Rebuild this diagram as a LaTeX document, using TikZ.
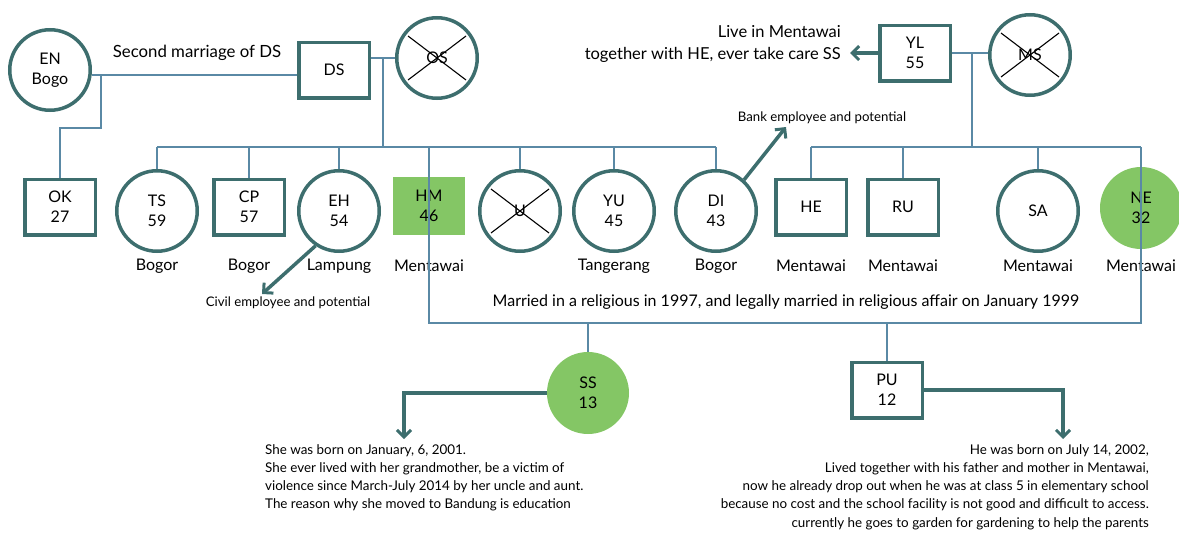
\documentclass[tikz,border=0pt]{standalone}
\usepackage{fontspec}
\setmainfont{Lato}
\usetikzlibrary{shapes.geometric,arrows.meta}
\definecolor{nodeteal}{RGB}{61,110,110}
\definecolor{linkblue}{RGB}{90,137,165}
\definecolor{leafgreen}{RGB}{132,198,101}
\begin{document}
\begin{tikzpicture}[x=1pt,y=-1pt,
  lbl/.style={font=\fontsize{16}{20}\selectfont, align=center, inner sep=0pt},
  person/.style={lbl, draw=nodeteal, line width=3.5pt, fill=white},
  male/.style={person, rectangle, minimum width=70.5pt, minimum height=55.5pt},
  female/.style={person, circle, minimum size=80.5pt},
  greenbox/.style={lbl, rectangle, fill=leafgreen, minimum width=72pt, minimum height=58pt},
  greencirc/.style={lbl, circle, fill=leafgreen, minimum size=82pt},
  deceased/.style={female, path picture={
      \draw[black, line width=1.1pt]
        ([shift={(-29,-22)}]path picture bounding box.center) -- ([shift={(29,22)}]path picture bounding box.center)
        ([shift={(-29,22)}]path picture bounding box.center) -- ([shift={(29,-22)}]path picture bounding box.center);}},
  place/.style={font=\fontsize{16}{20}\selectfont, inner sep=0pt},
  smallnote/.style={font=\fontsize{13.2}{16}\selectfont, inner sep=0pt},
  story/.style={font=\fontsize{13.4}{18.3}\selectfont, inner sep=0pt},
  link/.style={draw=linkblue, line width=2.3pt},
  pointer/.style={draw=nodeteal, line width=3.5pt, -{Straight Barb[length=7pt, width=14pt, line width=3pt]}}
]
\useasboundingbox (0,0) rectangle (1179,533);

% ---------- free points of connectors ----------
\coordinate (mEN) at (101,75);
\coordinate (kOK) at (60,128);
\coordinate (mDS) at (383,58);
\coordinate (bus1) at (383,147);
\coordinate (mYL) at (972,53);
\coordinate (bus2) at (972,147);
\coordinate (marr) at (786,323);

% ---------- people ----------
\node[female] (EN) at (50,70) {EN\\Bogo};
\node[male] (DS) at (334,70) {DS};
\node[deceased] (OS) at (437,58) {OS};
\node[male] (YL) at (915,53) {YL\\55};
\node[deceased] (MS) at (1030,55) {MS};

\node[male] (OK) at (60,207) {OK\\27};
\node[female] (TS) at (157,211) {TS\\59};
\node[male] (CP) at (249,207) {CP\\57};
\node[female] (EH) at (339,211) {EH\\54};
\node[greenbox] (HM) at (429,206) {HM\\46};
\node[deceased] (U) at (520,211) {U};
\node[female] (YU) at (614,211) {YU\\45};
\node[female] (DI) at (716,211) {DI\\43};
\node[male] (HE) at (811,207) {HE};
\node[male] (RU) at (903,207) {RU};
\node[female] (SA) at (1038,211) {SA};
\node[greencirc] (NE) at (1141,208) {NE\\32};

\node[greencirc] (SS) at (588,393) {SS\\13};
\node[male] (PU) at (887,390) {PU\\12};

% ---------- places ----------
\node[place] (TSp) at (157,266) {Bogor};
\node[place] (CPp) at (249,266) {Bogor};
\node[place] (EHp) at (339,266) {Lampung};
\node[place] (HMp) at (429,266) {Mentawai};
\node[place] (YUp) at (614,266) {Tangerang};
\node[place] (DIp) at (716,266) {Bogor};
\node[place] (HEp) at (811,266) {Mentawai};
\node[place] (RUp) at (903,266) {Mentawai};
\node[place] (SAp) at (1038,266) {Mentawai};
\node[place] (NEp) at (1141,266) {Mentawai};

% ---------- texts ----------
\node[font=\fontsize{16.8}{20}\selectfont, inner sep=0pt] (second) at (197,53) {Second marriage of DS};
\node[font=\fontsize{16.5}{22}\selectfont, inner sep=0pt, anchor=east, align=right] (live) at (841,44) {Live in Mentawai\\together with HE, ever take care SS};
\node[smallnote] (bank) at (822,118) {Bank employee and potential};
\node[smallnote] (civil) at (288,303) {Civil employee and potential};
\node[font=\fontsize{16}{18}\selectfont, inner sep=0pt] (married) at (786,302) {Married in a religious in 1997, and legally married in religious affair on January 1999};
\node[story, anchor=north west, align=left] (SSnote) at (265,444) {She was born on January, 6, 2001.\\She ever lived with her grandmother, be a victim of\\violence since March-July 2014 by her uncle and aunt.\\The reason why she moved to Bandung is education};
\node[story, anchor=north east, align=right] (PUnote) at (1149,444) {He was born on July 14, 2002,\\Lived together with his father and mother in Mentawai,\\now he already drop out when he was at class 5 in elementary school\\because no cost and the school facility is not good and difficult to access.\\currently he goes to garden for gardening to help the parents};

% ---------- family lines ----------
\draw[link] (EN.east |- mEN) -- (DS.west |- mEN);
\draw[link] (mEN) |- (kOK) -- (OK.north);
\draw[link] (DS.east |- mDS) -- (OS.west |- mDS);
\draw[link] (mDS) -- (bus1);
\draw[link] (TS.north |- bus1) -- (DI.north |- bus1);
\foreach \n in {TS,CP,EH,U,YU,DI} \draw[link] (\n.north |- bus1) -- (\n.north);
\draw[link] (YL.east |- mYL) -- (MS.west |- mYL);
\draw[link] (mYL) -- (bus2);
\draw[link] (HE.north |- bus2) -- (NE.north |- bus2);
\foreach \n in {HE,RU,SA} \draw[link] (\n.north |- bus2) -- (\n.north);
\draw[link] (HM.north |- bus1) -- (HM.center |- marr) -- (NE.center |- marr) -- (NE.north |- bus2);
\draw[link] (SS.center |- marr) -- (SS.north);
\draw[link] (PU.center |- marr) -- (PU.north);

% ---------- pointers ----------
\coordinate (tYL) at (850,53);
\coordinate (tDI) at (786,127);
\coordinate (tEH) at (262,294);
\coordinate (tSS) at (404,439);
\coordinate (tPU) at (1063,439);
\draw[pointer] (YL.west) -- (tYL);
\draw[pointer] (DI.48) -- (tDI);
\draw[pointer] (EH.236) -- (tEH);
\draw[pointer] (SS.west) -| (tSS);
\draw[pointer] (PU.east) -| (tPU);
\end{tikzpicture}
\end{document}
